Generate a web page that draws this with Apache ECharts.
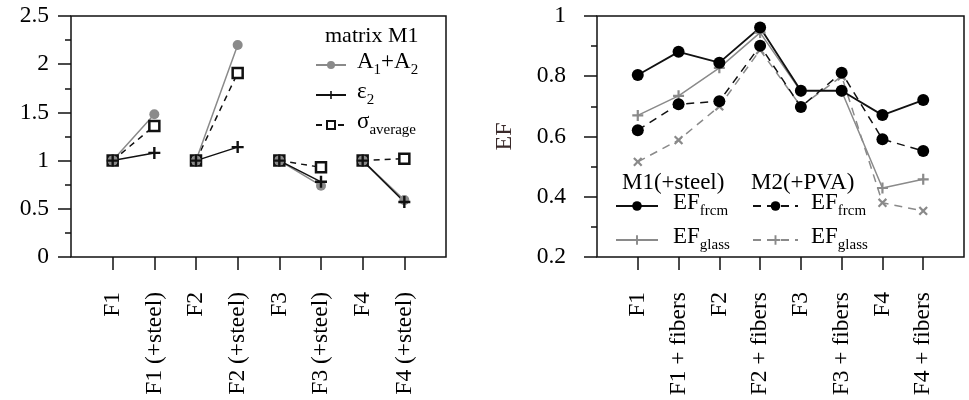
<!DOCTYPE html>
<html>
<head>
<meta charset="utf-8">
<script src="https://cdn.jsdelivr.net/npm/echarts@6/dist/echarts.min.js"></script>
<style>
  html, body { margin: 0; padding: 0; background: #fff; }
  #chart { width: 969px; height: 400px; }
</style>
</head>
<body>
<div id="chart"></div>
<script>
    // left panel: matrix M1, ratios to the plain specimen
    var leftCats = ['F1', 'F1 (+steel)', 'F2', 'F2 (+steel)', 'F3', 'F3 (+steel)', 'F4', 'F4 (+steel)'];
    var areaRatio = [1, 1.48, 1, 2.2, 1, 0.74, 1, 0.59];
    var strainRatio = [1, 1.08, 1, 1.14, 1, 0.78, 1, 0.57];
    var stressRatio = [1, 1.36, 1, 1.91, 1, 0.93, 1, 1.02];
    var leftTicks = [0, 0.5, 1, 1.5, 2, 2.5];

    // right panel: EF
    var rightCats = ['F1', 'F1 + fibers', 'F2', 'F2 + fibers', 'F3', 'F3 + fibers', 'F4', 'F4 + fibers'];
    var frcmM1 = [0.804, 0.881, 0.845, 0.962, 0.752, 0.752, 0.671, 0.721];
    var glassM1 = [0.67, 0.735, 0.828, 0.945, 0.75, 0.75, 0.429, 0.458];
    var frcmM2 = [0.621, 0.707, 0.717, 0.901, 0.698, 0.812, 0.591, 0.552];
    var glassM2 = [0.516, 0.588, 0.70, 0.887, 0.70, 0.80, 0.38, 0.353];
    var rightTicks = [0.2, 0.4, 0.6, 0.8, 1];

    var FONT = 'Liberation Serif';
    var GRAY = '#8a8a8a';
    var DARK = '#111';
    var PLUS = 'path://M4,0h2v4h4v2h-4v4h-2v-4h-4v-2h4z';

    // pad the category list so that ticks sit one step in from the frame
    function padCats(c) { return [''].concat(c).concat(['']); }

    // left series are drawn in pairs, broken between pairs
    function pairs(vals) {
        var out = [];
        for (var i = 0; i < vals.length; i += 2) {
            out.push([i + 1, vals[i]]);
            out.push([i + 2, vals[i + 1]]);
            if (i + 2 < vals.length) out.push([i + 2.5, '-']);
        }
        return out;
    }
    function pts(vals) {
        return vals.map(function (v, i) { return [i + 1, v]; });
    }

    var rich = {
        m: { fontFamily: FONT, fontSize: 23, color: '#000', lineHeight: 26, padding: [0, 0, 5, 0], verticalAlign: 'bottom' },
        s: { fontFamily: FONT, fontSize: 15, color: '#000', lineHeight: 16, verticalAlign: 'bottom' }
    };
    var legendNames = {
        'A1+A2': '{m|A}{s|1}{m|+A}{s|2}',
        'e2': '{m|ε}{s|2}',
        'sig': '{m|σ}{s|average}',
        'frcmM1': '{m|EF}{s|frcm}',
        'glassM1': '{m|EF}{s|glass}',
        'frcmM2': '{m|EF}{s|frcm}',
        'glassM2': '{m|EF}{s|glass}'
    };

    function catAxis(grid, cats) {
        return {
            type: 'category', gridIndex: grid, data: padCats(cats), boundaryGap: false,
            axisLine: { show: false },
            axisTick: { length: 13, lineStyle: { color: DARK, width: 1.5 },
                interval: function (i) { return i > 0 && i < cats.length + 1; } },
            axisLabel: { interval: 0, rotate: 90, margin: 35, color: '#000', fontFamily: FONT, fontSize: 23.5 },
            splitLine: { show: false }
        };
    }
    function hiddenX(grid) {
        return { type: 'value', gridIndex: grid, min: 0, max: 9, show: false, position: 'top' };
    }

    var myChart = echarts.init(document.getElementById('chart'));
    var option = {
        animation: false,
        title: [
            { text: 'matrix M1', left: 320, top: 20, textStyle: { fontFamily: FONT, fontSize: 22, fontWeight: 'normal', color: '#000' } },
            { text: 'M1(+steel)', left: 617, top: 166, textStyle: { fontFamily: FONT, fontSize: 23, fontWeight: 'normal', color: '#000' } },
            { text: 'M2(+PVA)', left: 746, top: 166, textStyle: { fontFamily: FONT, fontSize: 23, fontWeight: 'normal', color: '#000' } }
        ],
        legend: [
            {
                orient: 'vertical', left: 310, top: 45, itemWidth: 30, itemHeight: 10, itemGap: 2,
                data: ['A1+A2', 'e2', 'sig'], symbolRotate: 0,
                formatter: function (n) { return legendNames[n]; },
                textStyle: { rich: rich, padding: [0, 0, 0, 6] }
            },
            {
                orient: 'vertical', left: 610, top: 186, itemWidth: 42, itemHeight: 12, itemGap: 6,
                data: ['frcmM1', 'glassM1'], symbolRotate: 0,
                formatter: function (n) { return legendNames[n]; },
                textStyle: { rich: rich, padding: [0, 0, 0, 10] }
            },
            {
                orient: 'vertical', left: 747, top: 186, itemWidth: 45, itemHeight: 12, itemGap: 6,
                data: ['frcmM2', 'glassM2'], symbolRotate: 0,
                formatter: function (n) { return legendNames[n]; },
                textStyle: { rich: rich, padding: [0, 0, 0, 8] }
            }
        ],
        grid: [
            { left: 71, top: 16, width: 375, height: 241, show: true, borderColor: DARK, borderWidth: 1.5 },
            { left: 597, top: 16, width: 367, height: 241, show: true, borderColor: DARK, borderWidth: 1.5 }
        ],
        xAxis: [catAxis(0, leftCats), hiddenX(0), catAxis(1, rightCats), hiddenX(1)],
        yAxis: [
            {
                type: 'value', gridIndex: 0, min: leftTicks[0], max: leftTicks[leftTicks.length - 1], interval: 0.5,
                axisLine: { show: false },
                axisTick: { length: 13, lineStyle: { color: DARK, width: 1.5 } },
                minorTick: { show: true, splitNumber: 2, length: 6, lineStyle: { color: DARK, width: 1.5 } },
                axisLabel: { margin: 22, color: '#000', fontFamily: FONT, fontSize: 23.5 },
                splitLine: { show: false }
            },
            {
                type: 'value', gridIndex: 1, min: rightTicks[0], max: rightTicks[rightTicks.length - 1], interval: 0.2,
                name: 'EF', nameLocation: 'middle', nameRotate: 90, nameGap: 80,
                nameTextStyle: { fontFamily: FONT, fontSize: 24, color: '#3a2a2a' },
                axisLine: { show: false },
                axisTick: { length: 13, lineStyle: { color: DARK, width: 1.5 } },
                minorTick: { show: true, splitNumber: 2, length: 6, lineStyle: { color: DARK, width: 1.5 } },
                axisLabel: { margin: 31, color: '#000', fontFamily: FONT, fontSize: 23.5 },
                splitLine: { show: false }
            }
        ],
        series: [
            {
                name: 'sig', type: 'line', xAxisIndex: 1, yAxisIndex: 0, data: pairs(stressRatio),
                symbol: 'rect', symbolSize: 10, showAllSymbol: true,
                lineStyle: { color: DARK, width: 1.5, type: [6, 5] },
                itemStyle: { color: '#fff', borderColor: DARK, borderWidth: 2.5 }
            },
            {
                name: 'A1+A2', type: 'line', xAxisIndex: 1, yAxisIndex: 0, data: pairs(areaRatio),
                symbol: 'circle', symbolSize: 10,
                lineStyle: { color: GRAY, width: 1.5 },
                itemStyle: { color: GRAY }
            },
            {
                name: 'e2', type: 'line', xAxisIndex: 1, yAxisIndex: 0, data: pairs(strainRatio),
                symbol: PLUS, symbolSize: 12,
                lineStyle: { color: DARK, width: 1.5 },
                itemStyle: { color: DARK }
            },
            {
                name: 'glassM2', type: 'line', xAxisIndex: 3, yAxisIndex: 1, data: pts(glassM2),
                symbol: PLUS, symbolSize: 11, symbolRotate: 45,
                lineStyle: { color: GRAY, width: 1.5, type: [8, 6] },
                itemStyle: { color: GRAY }
            },
            {
                name: 'glassM1', type: 'line', xAxisIndex: 3, yAxisIndex: 1, data: pts(glassM1),
                symbol: PLUS, symbolSize: 11,
                lineStyle: { color: GRAY, width: 1.5 },
                itemStyle: { color: GRAY }
            },
            {
                name: 'frcmM2', type: 'line', xAxisIndex: 3, yAxisIndex: 1, data: pts(frcmM2),
                symbol: 'circle', symbolSize: 12,
                lineStyle: { color: DARK, width: 1.5, type: [8, 6] },
                itemStyle: { color: '#000' }
            },
            {
                name: 'frcmM1', type: 'line', xAxisIndex: 3, yAxisIndex: 1, data: pts(frcmM1),
                symbol: 'circle', symbolSize: 12,
                lineStyle: { color: DARK, width: 1.8 },
                itemStyle: { color: '#000' }
            }
        ]
    };
    myChart.setOption(option);
</script>
</body>
</html>
